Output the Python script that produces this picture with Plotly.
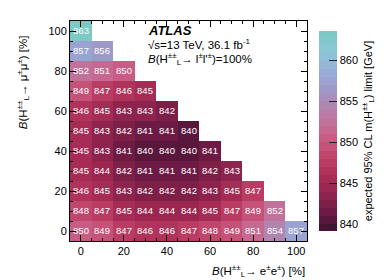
import plotly.graph_objects as go

# Data: branching ratios [%] and expected limits [GeV]
b_ee = [0, 10, 20, 30, 40, 50, 60, 70, 80, 90, 100]
b_mumu = [0, 10, 20, 30, 40, 50, 60, 70, 80, 90, 100]

row_0 = [850, 849, 847, 846, 846, 847, 848, 849, 851, 854, 857]
row_10 = [848, 847, 845, 844, 844, 844, 845, 847, 849, 852]
row_20 = [846, 845, 843, 842, 842, 842, 843, 845, 847]
row_30 = [845, 844, 842, 841, 841, 841, 842, 843]
row_40 = [845, 843, 841, 840, 840, 840, 841]
row_50 = [845, 843, 842, 841, 841, 840]
row_60 = [846, 845, 843, 843, 842]
row_70 = [849, 847, 846, 845]
row_80 = [852, 851, 850]
row_90 = [857, 856]
row_100 = [863]

cbar_ticks = [840, 845, 850, 855, 860]
axis_ticks = [0, 20, 40, 60, 80, 100]

rows = [row_0, row_10, row_20, row_30, row_40, row_50, row_60, row_70, row_80, row_90, row_100]
z = [r + [None] * (len(b_ee) - len(r)) for r in rows]

zmin, zmax = 839.2, 863.6

# Colour palette (styling)
anchors = [(839, (62, 18, 45)), (841, (100, 25, 65)), (843, (135, 33, 75)), (845, (162, 40, 82)),
           (847, (182, 55, 95)), (849, (196, 75, 115)), (851, (202, 98, 138)), (853, (190, 120, 160)),
           (855, (172, 138, 182)), (857, (155, 158, 208)), (859, (150, 178, 215)), (861, (140, 198, 215)),
           (863.6, (122, 202, 195))]


def col_at(v):
    if v <= anchors[0][0]:
        return anchors[0][1]
    for (v0, c0), (v1, c1) in zip(anchors[:-1], anchors[1:]):
        if v0 <= v <= v1:
            t = (v - v0) / (v1 - v0)
            return tuple(round(a + (b - a) * t) for a, b in zip(c0, c1))
    return anchors[-1][1]


edges = [zmin]
v = 840.0
while v < zmax:
    edges.append(v)
    v += 1.0
edges.append(zmax)
edges = sorted(set(edges))
cs = []
for lo, hi in zip(edges[:-1], edges[1:]):
    c = col_at((lo + hi) / 2)
    s = f"rgb({c[0]},{c[1]},{c[2]})"
    cs.append([(lo - zmin) / (zmax - zmin), s])
    cs.append([(hi - zmin) / (zmax - zmin), s])

FONT = "Liberation Sans, Arial, sans-serif"

fig = go.Figure(go.Heatmap(
    x=b_ee, y=b_mumu, z=z, zmin=zmin, zmax=zmax, colorscale=cs,
    texttemplate="%{z}", textfont=dict(color="white", size=9.5, family=FONT),
    xgap=0, ygap=0, hoverongaps=False,
    colorbar=dict(x=1.008, xanchor="left", y=0.5, yanchor="middle", len=1.0, lenmode="fraction",
                  thickness=18, outlinewidth=0, tickvals=cbar_ticks,
                  ticks="inside", ticklen=8, tickcolor="#222", tickwidth=1,
                  tickfont=dict(size=11, family=FONT, color="black"),
                  title=dict(text="expected 95% CL m(H<sup>±±</sup><sub>L</sub>) limit [GeV]", side="right",
                             font=dict(size=11, family=FONT, color="black"))),
))

axis_common = dict(showline=True, linecolor="black", linewidth=1, mirror="ticks", ticks="inside",
                   ticklen=6, tickcolor="black", showgrid=False, zeroline=False,
                   tickfont=dict(size=11, family=FONT, color="black"),
                   minor=dict(ticks="inside", ticklen=3, dtick=5, tickcolor="black", showgrid=False))

fig.update_layout(
    width=390, height=280, margin=dict(l=62, r=78, t=13, b=47),
    paper_bgcolor="white", plot_bgcolor="white", font=dict(family=FONT, color="black"),
    xaxis=dict(range=[-5, 105], tickvals=axis_ticks, **axis_common),
    yaxis=dict(range=[-5, 105], tickvals=axis_ticks, **axis_common),
    annotations=[
        dict(text="<b><i>ATLAS</i></b>", xref="paper", yref="paper", x=0.32, y=1.0, xanchor="left",
             yanchor="top", showarrow=False, font=dict(size=13)),
        dict(text="√s=13 TeV, 36.1 fb<sup>-1</sup>", xref="paper", yref="paper", x=0.32, y=0.935,
             xanchor="left", yanchor="top", showarrow=False, font=dict(size=11.5)),
        dict(text="<i>B</i>(H<sup>±±</sup><sub>L</sub>→ l<sup>±</sup>l'<sup>±</sup>)=100%", xref="paper",
             yref="paper", x=0.32, y=0.872, xanchor="left", yanchor="top", showarrow=False,
             font=dict(size=11.5)),
        dict(text="<i>B</i>(H<sup>±±</sup><sub>L</sub>→ e<sup>±</sup>e<sup>±</sup>) [%]", xref="paper",
             yref="paper", x=1.0, y=-0.135, xanchor="right", yanchor="middle", showarrow=False,
             font=dict(size=11.5)),
        dict(text="<i>B</i>(H<sup>±±</sup><sub>L</sub>→ μ<sup>±</sup>μ<sup>±</sup>) [%]", xref="paper",
             yref="paper", x=-0.2, y=0.72, xanchor="center", yanchor="middle", textangle=-90,
             showarrow=False, font=dict(size=11.5)),
    ],
)

fig.write_html("out.html")
